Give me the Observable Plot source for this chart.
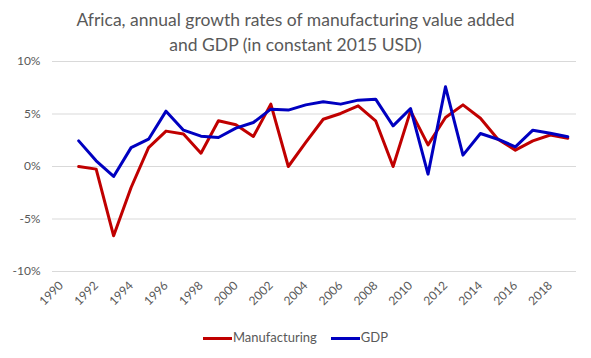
<!DOCTYPE html>
<html><head><meta charset="utf-8">
<script src="https://cdn.jsdelivr.net/npm/d3@7"></script>
<script src="https://cdn.jsdelivr.net/npm/@observablehq/plot@0.6"></script>
<style>
body{margin:0;background:#fff;}
#wrap{position:relative;width:591px;height:358px;font-family:Lato,"Open Sans",sans-serif;color:#595959;}
#title{position:absolute;left:0;top:7px;width:591px;text-align:center;font-size:17.5px;line-height:25px;color:#595959;}
#chart{position:absolute;left:0;top:52px;}
#legend{position:absolute;left:0;top:328px;width:591px;text-align:center;font-size:13px;line-height:18px;}
.item{display:inline-block;margin:0 7px;}
.sw{display:inline-block;width:29px;height:3px;vertical-align:middle;margin-right:1px;}
</style></head>
<body><div id="wrap">
<div id="title">Africa, annual growth rates of manufacturing value added<br>and GDP (in constant 2015 USD)</div>
<div id="chart"></div>
<div id="legend"><span class="item"><span class="sw" style="background:#c00000"></span>Manufacturing</span><span class="item"><span class="sw" style="background:#0000c0"></span>GDP</span></div>
</div>
<script>
const years = [1991,1992,1993,1994,1995,1996,1997,1998,1999,2000,2001,2002,2003,2004,2005,2006,2007,2008,2009,2010,2011,2012,2013,2014,2015,2016,2017,2018,2019];
const manufacturing = [0.0,-0.25,-6.6,-2.0,1.8,3.37,3.1,1.27,4.35,3.97,2.86,5.94,0.0,2.3,4.5,5.05,5.78,4.35,0.0,5.3,2.06,4.67,5.87,4.6,2.6,1.56,2.44,3.0,2.7];
const gdp = [2.44,0.54,-0.95,1.8,2.6,5.27,3.46,2.89,2.76,3.65,4.19,5.46,5.37,5.87,6.16,5.94,6.32,6.41,3.87,5.52,-0.73,7.59,1.08,3.14,2.6,1.87,3.46,3.17,2.83];
const xTickYears = [1990,1992,1994,1996,1998,2000,2002,2004,2006,2008,2010,2012,2014,2016,2018];
const yTickValues = [-10,-5,0,5,10];

const mfgData = years.map((y,i)=>({year:y,value:manufacturing[i]}));
const gdpData = years.map((y,i)=>({year:y,value:gdp[i]}));

const chart = Plot.plot({
  width:591, height:270,
  marginLeft:52, marginRight:15, marginTop:9, marginBottom:51,
  style:{fontFamily:'Lato,"Open Sans",sans-serif', fontSize:"12px", color:"#595959", background:"transparent"},
  x:{domain:[1989.5,2019.5], ticks:xTickYears, tickFormat:d=>String(d), tickRotate:-45, tickSize:0, tickPadding:12, label:null},
  y:{domain:[-10,10], ticks:yTickValues, tickFormat:d=>d+"%", tickSize:0, tickPadding:12, label:null},
  marks:[
    Plot.ruleY(yTickValues,{stroke:"#d9d9d9", strokeWidth:1}),
    Plot.lineY(mfgData,{x:"year", y:"value", stroke:"#c00000", strokeWidth:3, strokeLinejoin:"round"}),
    Plot.lineY(gdpData,{x:"year", y:"value", stroke:"#0000c0", strokeWidth:3, strokeLinejoin:"round"})
  ]
});
document.getElementById("chart").appendChild(chart);
</script>
</body></html>
